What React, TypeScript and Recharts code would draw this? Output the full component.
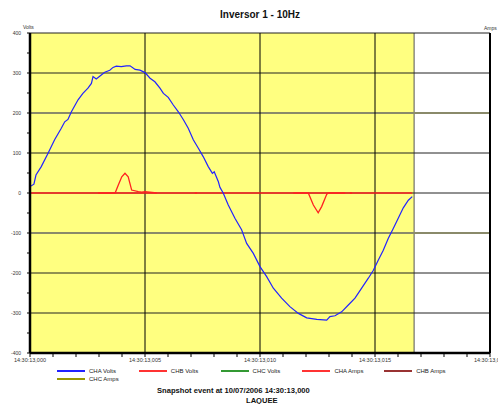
import React from 'react';
import { ComposedChart, Line, XAxis, YAxis, ReferenceArea, ReferenceLine, Legend } from 'recharts';

const FONT = '"Liberation Sans", Arial, sans-serif';

const title = 'Inversor 1 - 10Hz';
const footerLine1 = 'Snapshot event at 10/07/2006 14:30:13,000';
const footerLine2 = 'LAQUEE';
const leftAxisTitle = 'Volts';
const rightAxisTitle = 'Amps';

// CHA Volts (time in ms after 14:30:13,000)
const timeMs = [
  0, 0.17, 0.26, 0.49, 0.78, 1.07, 1.36, 1.51, 1.65, 1.8, 2.09, 2.3, 2.52, 2.67, 2.74,
  2.88, 3.03, 3.25, 3.47, 3.61, 3.75, 3.97, 4.19, 4.35, 4.57, 4.78, 5.0, 5.22, 5.43, 5.65,
  5.8, 6.01, 6.23, 6.45, 6.67, 6.88, 7.1, 7.32, 7.53, 7.75, 7.93, 8.01, 8.19, 8.26, 8.4,
  8.62, 8.91, 9.2, 9.42, 9.71, 10.0, 10.29, 10.58, 10.94, 11.3, 11.67, 12.03, 12.47, 12.9, 13.04,
  13.26, 13.55, 13.84, 14.13, 14.42, 14.71, 14.93, 15.14, 15.36, 15.58, 15.8, 16.01, 16.23, 16.45, 16.62,
];
const chaVolts = [
  16, 22, 45, 66, 99, 133, 162, 178, 184, 203, 233, 249, 262, 274, 291,
  285, 292, 302, 307, 314, 317, 316, 318, 318, 309, 307, 301, 287, 278, 262,
  249, 239, 220, 203, 183, 162, 133, 112, 91, 66, 49, 53, 28, 14, 0,
  -30, -63, -92, -126, -151, -184, -209, -238, -263, -284, -301, -312, -316, -318, -309,
  -307, -297, -280, -263, -238, -213, -193, -168, -143, -113, -88, -63, -37, -18, -9,
];

// CHB Volts
const chbTimeMs = [0, 16.62];
const chbVolts = [0, 0];

// CHA Amps (null = gap)
const ampTimeMs = [
  2.96, 3.7, 3.84, 3.99, 4.13, 4.27, 4.42, 4.71, 4.86, 5.0, 5.51, 5.6, 7.17, 7.26, 7.3,
  11.45, 12.1, 12.32, 12.53, 12.68, 12.9, 12.97, 13.7, 13.8, 13.91, 14.0,
];
const chaAmps: (number | null)[] = [
  0, 0, 3.0, 6.1, 7.4, 6.1, 1.1, 0.5, 0.3, 0.5, 0, null, 0, 0, null,
  0, 0, -4.5, -7.4, -5.1, -0.5, 0, 0, null, 0, 0,
];

const xTicks = [0, 1, 2, 3, 4, 5, 6, 7, 8, 9, 10, 11, 12, 13, 14, 15, 16, 17, 18, 19, 20];
const xTickLabels: Record<number, string> = {
  0: '14:30:13,000',
  5: '14:30:13,005',
  10: '14:30:13,010',
  15: '14:30:13,015',
  20: '14:30:13,020',
};
const voltTicks = [-400, -350, -300, -250, -200, -150, -100, -50, 0, 50, 100, 150, 200, 250, 300, 350, 400];
const ampTicks = [-60, -50, -40, -30, -20, -10, 0, 10, 20, 30, 40, 50, 60];
const darkGridY = [400, 300, 100, 0, -200, -300];
const greyGridY = [200, -100];
const gridX = [5, 10, 15];
const snapshotEndMs = 16.7;

const legendNames = ['CHA Volts', 'CHB Volts', 'CHC Volts', 'CHA Amps', 'CHB Amps', 'CHC Amps'];
const legendColors = ['#2222ff', '#ff3333', '#339933', '#ff3333', '#993333', '#999900'];

const LegendContent = () => (
  <div style={{ position: 'relative', width: 498, height: 18, fontFamily: FONT, fontSize: 6, color: '#222' }}>
    {legendNames.map((name, i) => {
      const row = Math.floor(i / 5);
      const col = i % 5;
      return (
        <div
          key={name}
          style={{ position: 'absolute', left: 57 + col * 81.8, top: row * 8, height: 8, display: 'flex', alignItems: 'center', whiteSpace: 'nowrap' }}
        >
          <span style={{ display: 'inline-block', width: 28, height: 2, background: legendColors[i] }} />
          <span style={{ marginLeft: 4 }}>{name}</span>
        </div>
      );
    })}
  </div>
);

export default function App() {
  const chaData = timeMs.map((t, i) => ({ t, v: chaVolts[i] }));
  const chbData = chbTimeMs.map((t, i) => ({ t, v: chbVolts[i] }));
  const ampData = ampTimeMs.map((t, i) => ({ t, a: chaAmps[i] }));

  return (
    <div style={{ position: 'relative', width: 498, height: 404, background: '#fff', fontFamily: FONT, overflow: 'hidden' }}>
      <style>{'body{margin:0}'}</style>
      <div style={{ position: 'absolute', top: 9, left: 220, fontWeight: 'bold', fontSize: 10, whiteSpace: 'nowrap', color: '#111' }}>{title}</div>
      <div style={{ position: 'absolute', top: 24, left: 23, fontSize: 5, color: '#333' }}>{leftAxisTitle}</div>
      <div style={{ position: 'absolute', top: 25, left: 484, fontSize: 5, color: '#333' }}>{rightAxisTitle}</div>
      <div style={{ position: 'absolute', top: 386, left: 157, fontWeight: 'bold', fontSize: 7.6, whiteSpace: 'nowrap', color: '#111' }}>{footerLine1}</div>
      <div style={{ position: 'absolute', top: 396, left: 246, fontWeight: 'bold', fontSize: 7.6, whiteSpace: 'nowrap', color: '#111' }}>{footerLine2}</div>
      <div style={{ position: 'absolute', top: 0, left: 0 }}>
        <ComposedChart width={498} height={404} margin={{ top: 33, right: 0, bottom: 31, left: 0 }}>
          <XAxis
            dataKey="t"
            type="number"
            domain={[0, 20]}
            ticks={xTicks}
            interval={0}
            allowDataOverflow
            height={20}
            tickSize={4}
            tickMargin={1}
            stroke="#000"
            axisLine={{ stroke: '#000', strokeWidth: 2.5 }}
            tickLine={{ stroke: '#000' }}
            tick={{ fontSize: 5.5, fill: '#333', fontFamily: FONT }}
            tickFormatter={(v: number) => xTickLabels[v] ?? ''}
          />
          <YAxis
            yAxisId="volts"
            type="number"
            domain={[-400, 400]}
            ticks={voltTicks}
            interval={0}
            width={30}
            tickSize={3}
            tickMargin={6}
            axisLine={{ stroke: '#000', strokeWidth: 2.5 }}
            tickLine={{ stroke: '#000' }}
            tick={{ fontSize: 5, fill: '#333', fontFamily: FONT }}
            tickFormatter={(v: number) => (v % 100 === 0 ? String(v) : '')}
          />
          <YAxis
            yAxisId="amps"
            orientation="right"
            type="number"
            domain={[-60, 60]}
            ticks={ampTicks}
            interval={0}
            width={8}
            tickSize={3}
            axisLine={{ stroke: '#000', strokeWidth: 2 }}
            tickLine={{ stroke: '#000' }}
            tick={false}
          />
          <ReferenceArea yAxisId="volts" x1={0} x2={snapshotEndMs} y1={-400} y2={400} fill="#ffff80" fillOpacity={1} stroke="none" />
          <ReferenceLine yAxisId="volts" x={snapshotEndMs} stroke="#555" strokeWidth={1} />
          {greyGridY.map((y) => (
            <ReferenceLine key={'g' + y} yAxisId="volts" y={y} stroke="#8a8a6a" strokeWidth={2} />
          ))}
          {darkGridY.map((y) => (
            <ReferenceLine key={'d' + y} yAxisId="volts" y={y} stroke="#222" strokeWidth={1} />
          ))}
          {gridX.map((x) => (
            <ReferenceLine key={'x' + x} yAxisId="volts" x={x} stroke="#000" strokeWidth={1} />
          ))}
          <Line yAxisId="volts" data={chbData} dataKey="v" type="linear" stroke="#ff2020" strokeWidth={1.3} dot={false} isAnimationActive={false} />
          <Line yAxisId="amps" data={ampData} dataKey="a" type="linear" stroke="#ff2020" strokeWidth={1.3} dot={false} connectNulls={false} isAnimationActive={false} />
          <Line yAxisId="volts" data={chaData} dataKey="v" type="linear" stroke="#2222ff" strokeWidth={1.2} dot={false} isAnimationActive={false} />
          <Legend
            layout="horizontal"
            verticalAlign="middle"
            align="center"
            content={<LegendContent />}
            wrapperStyle={{ top: 367, left: 0, width: 498 }}
          />
        </ComposedChart>
      </div>
    </div>
  );
}
